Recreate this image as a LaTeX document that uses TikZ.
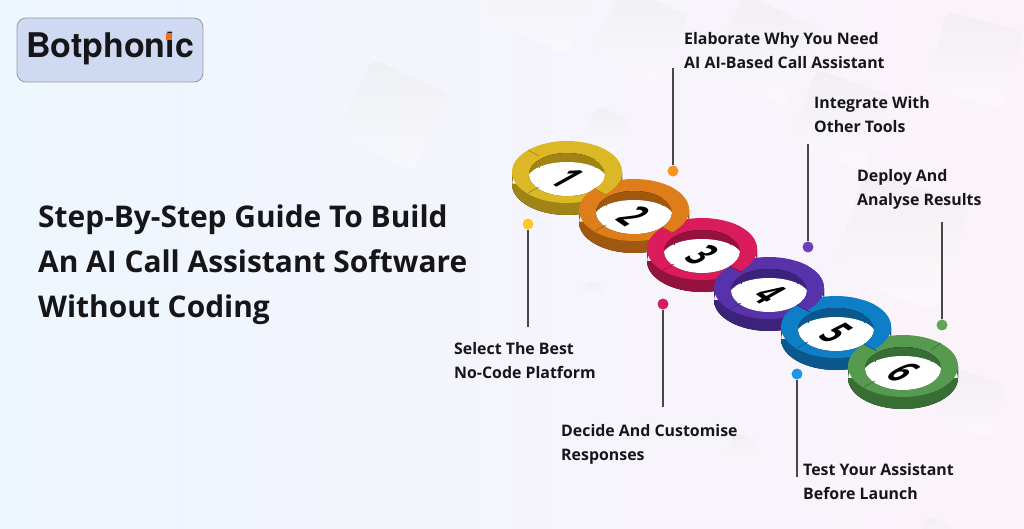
\documentclass[tikz,border=0pt]{standalone}
\usepackage{fontspec}
\setmainfont{Open Sans}
\newfontfamily\logofont{TeX Gyre Heros}
\usetikzlibrary{arrows.meta,positioning,calc}
\tikzset{
  tile/.style={rectangle, rounded corners=9pt, inner sep=0pt, top color=black!9, bottom color=white, opacity=0.4},
  steptext/.style={anchor=west, align=left, inner sep=0pt, font=\fontsize{15.9}{24}\selectfont\bfseries},
  headline/.style={anchor=west, align=left, inner sep=0pt, font=\fontsize{29.9}{45}\selectfont\bfseries},
  stepdot/.style={circle, minimum size=11pt, inner sep=0pt},
  stem/.style={line width=1.2pt, draw=black!72},
  digit/.style={inner sep=0pt, font=\fontsize{40}{40}\selectfont\bfseries, cm={.5,-.35,.93,.52,(0,0)}}
}
% one ring without its side wall: colour, dark colour
\newcommand{\ringtop}[2]{
  \fill[#1] (0,0) ellipse [x radius=55, y radius=31];
  \begin{scope}
    \clip (0,2.5) ellipse [x radius=38, y radius=21.5];
    \fill[left color=#2, middle color=#1!75!black, right color=#2] (-38,-19) rectangle (38,24);
    \fill[white] (0,8) ellipse [x radius=40, y radius=18];
    \draw[#2, line width=0.5pt] (-28,-12) -- (-28,-4) (28,-12) -- (28,-4);
  \end{scope}
  \draw[#2, line width=0.6pt] (-39,-22) -- (-28,-16) (38,-23) -- (28,-16) (-39,21) -- (-28,15);
}
% full ring with side wall
\newcommand{\ringfull}[4]{
  \begin{scope}[shift={(#1,#2)}]
    \fill[left color=#4, middle color=#3!85!black, right color=#4] (-55,0) rectangle (55,12) (0,12) ellipse [x radius=55, y radius=31];
    \draw[#4, line width=0.5pt] (-39,22) -- (-39,34) (-22,29) -- (-22,41);
    \ringtop{#3}{#4}
  \end{scope}
}
% part of a ring which lies over the next one
\newcommand{\ringover}[4]{
  \begin{scope}[shift={(#1,#2)}]
    \begin{scope}
      \clip (28,17) -- (80,45) -- (80,-50) -- (28,-50) -- cycle;
      \fill[#3, even odd rule] (0,0) ellipse [x radius=55, y radius=31] (0,2.5) ellipse [x radius=38, y radius=21.5];
    \end{scope}
    \draw[#4, line width=0.7pt] (28,17) -- (41,24);
  \end{scope}
}

\begin{document}
\begin{tikzpicture}[x=1pt, y=-1pt]
% Color definitions
\definecolor{ringyellow}{RGB}{220,184,38}
\definecolor{darkyellow}{RGB}{160,132,22}
\definecolor{ringorange}{RGB}{222,126,26}
\definecolor{darkorange}{RGB}{160,88,14}
\definecolor{ringred}{RGB}{218,28,92}
\definecolor{darkred}{RGB}{150,18,62}
\definecolor{ringpurple}{RGB}{88,50,170}
\definecolor{darkpurple}{RGB}{60,34,122}
\definecolor{ringblue}{RGB}{14,126,198}
\definecolor{darkblue}{RGB}{10,88,142}
\definecolor{ringgreen}{RGB}{86,154,80}
\definecolor{darkgreen}{RGB}{56,110,52}
\definecolor{dotyellow}{RGB}{255,199,44}
\definecolor{dotorange}{RGB}{247,148,30}
\definecolor{dotred}{RGB}{216,27,96}
\definecolor{dotpurple}{RGB}{106,63,192}
\definecolor{dotblue}{RGB}{30,150,232}
\definecolor{dotgreen}{RGB}{92,168,80}
\definecolor{logofill}{RGB}{207,218,242}
\definecolor{logoline}{RGB}{143,155,179}
\definecolor{logoorange}{RGB}{245,110,20}
\definecolor{inkblack}{RGB}{22,22,24}
\definecolor{bgleft}{RGB}{238,246,254}
\definecolor{bgmid}{RGB}{245,245,252}
\definecolor{bgright}{RGB}{252,243,250}

\useasboundingbox (0,0) rectangle (1024,529);
\clip (0,0) rectangle (1024,529);
\fill[left color=bgleft, middle color=bgmid, right color=bgright] (0,0) rectangle (1024,529);

% Background tiles
\node[tile, minimum size=85pt, rotate=-25] (tilea) at (393,115) {};
\node[tile, minimum size=90pt, rotate=-25] (tileb) at (545,-5) {};
\node[tile, minimum size=75pt, rotate=-25] (tilec) at (640,35) {};
\node[tile, minimum size=38pt, rotate=-25] (tiled) at (606,130) {};
\node[tile, minimum size=80pt, rotate=-15] (tilee) at (975,60) {};
\node[tile, minimum size=110pt, rotate=-20] (tilef) at (900,240) {};
\node[tile, minimum size=80pt, rotate=-20] (tileg) at (840,120) {};
\node[tile, minimum size=85pt, rotate=-25] (tileh) at (765,50) {};
\node[tile, minimum size=55pt, rotate=-20] (tilei) at (972,403) {};
\node[tile, minimum size=28pt, rotate=-25] (tilej) at (742,450) {};
\node[tile, minimum size=20pt, rotate=-25] (tilek) at (592,292) {};
\node[tile, minimum size=30pt, rotate=-25] (tilel) at (935,535) {};

% Logo
\node[draw=logoline, fill=logofill, rounded corners=9pt, minimum width=186pt, minimum height=64pt, inner sep=0pt, line width=0.8pt] (logo) at (110,50) {};
\node[inner sep=0pt, text=inkblack, font=\fontsize{34}{36}\selectfont\logofont\bfseries] (logotext) at (110,49) {Botphonic};
\node[fill=logoorange, minimum width=6pt, minimum height=7pt, inner sep=0pt] (logodot) at (169,36.5) {};

% Headline
\node[headline, text=inkblack] (title) at (38,265) {Step-By-Step Guide To Build\\An AI Call Assistant Software\\Without Coding};

% Rings
\ringfull{567}{172}{ringyellow}{darkyellow}
\ringfull{634}{210}{ringorange}{darkorange}
\ringover{567}{172}{ringyellow}{darkyellow}
\ringfull{702}{249}{ringred}{darkred}
\ringover{634}{210}{ringorange}{darkorange}
\ringfull{769}{288}{ringpurple}{darkpurple}
\ringover{702}{249}{ringred}{darkred}
\ringfull{836}{327}{ringblue}{darkblue}
\ringover{769}{288}{ringpurple}{darkpurple}
\ringfull{903}{366}{ringgreen}{darkgreen}
\ringover{836}{327}{ringblue}{darkblue}

% Digits
\node[digit] (one) at (567,178) {1};
\node[digit] (two) at (634,216) {2};
\node[digit] (three) at (702,255) {3};
\node[digit] (four) at (769,294) {4};
\node[digit] (five) at (836,333) {5};
\node[digit] (six) at (903,372) {6};

% Dots and stems
\node[stepdot, fill=dotyellow] (doty) at (528,224) {};
\node[stepdot, fill=dotorange] (doto) at (673,171) {};
\node[stepdot, fill=dotred] (dotr) at (663,304) {};
\node[stepdot, fill=dotpurple] (dotp) at (808,247) {};
\node[stepdot, fill=dotblue] (dotb) at (797,374) {};
\node[stepdot, fill=dotgreen] (dotg) at (942,325) {};
\coordinate (endy) at (528,327);
\coordinate (endo) at (673,68);
\coordinate (endr) at (663,407);
\coordinate (endp) at (808,144);
\coordinate (endb) at (797,477);
\coordinate (endg) at (942,222);
\draw[stem] (doty) -- (endy);
\draw[stem] (doto) -- (endo);
\draw[stem] (dotr) -- (endr);
\draw[stem] (dotp) -- (endp);
\draw[stem] (dotb) -- (endb);
\draw[stem] (dotg) -- (endg);

% Step labels
\node[steptext, text=inkblack] (selectlab) at (454,360.5) {Select The Best\\No-Code Platform};
\node[steptext, text=inkblack] (elablab) at (684,50.5) {Elaborate Why You Need\\AI AI-Based Call Assistant};
\node[steptext, text=inkblack] (decidelab) at (561,444) {Decide And Customise\\Responses};
\node[steptext, text=inkblack] (integlab) at (814,115) {Integrate With\\Other Tools};
\node[steptext, text=inkblack] (testlab) at (803,482) {Test Your Assistant\\Before Launch};
\node[steptext, text=inkblack] (deploylab) at (857,189.5) {Deploy And\\Analyse Results};
\end{tikzpicture}
\end{document}
